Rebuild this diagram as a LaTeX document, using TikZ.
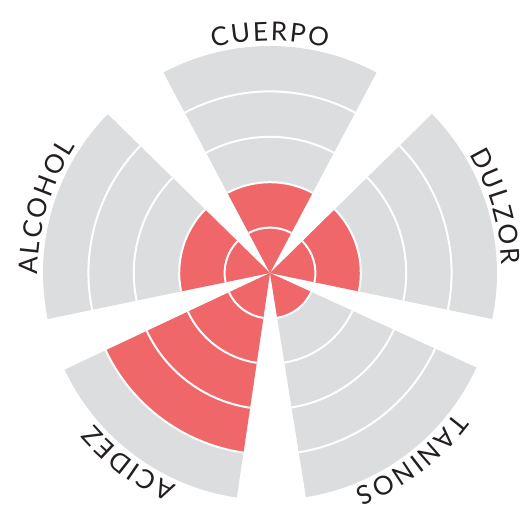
\documentclass[tikz,border=0pt]{standalone}
\usepackage{fontspec}
\setmainfont{Lato}
\newfontfamily\tagfont{Lato}
\usetikzlibrary{decorations.text}
\definecolor{rimgray}{RGB}{220,221,223}
\definecolor{winered}{RGB}{240,103,106}
\definecolor{inkgray}{RGB}{35,31,32}
\tikzset{
  tagchar/.style={font=\tagfont\fontsize{26}{26}\selectfont},
  ringline/.style={white,line width=2pt},
  labelarc/.style={decorate,decoration={text effects along path,text={#1},text align=center,
    text effects/.cd,text along path,
    characters={tagchar,text=inkgray},
    character widths={tagchar,inner xsep=1.1pt}}}
}
\begin{document}
\begin{tikzpicture}[x=1pt,y=1pt]
\useasboundingbox (-270,-236) rectangle (259,273);
\def\ringw{45.4}
% sectors: start angle / end angle / level
\foreach \a/\b/\v in {62/118/2, -11.7/44.5/2, -80.9/-24.6/1, -154.8/-98.4/4, 135.6/191.7/2}{
  \pgfmathsetmacro\rout{5*\ringw}
  \pgfmathsetmacro\rval{\v*\ringw}
  \fill[rimgray] (0,0) -- (\a:\rout) arc[start angle=\a,end angle=\b,radius=\rout] -- cycle;
  \fill[winered] (0,0) -- (\a:\rval) arc[start angle=\a,end angle=\b,radius=\rval] -- cycle;
  \foreach \k in {1,...,4}{
    \pgfmathsetmacro\rk{\k*\ringw}
    \draw[ringline] (\a:\rk) arc[start angle=\a,end angle=\b,radius=\rk];
  }
}
% labels along the rim
\path[labelarc=CUERPO] (130:232) arc[start angle=130,end angle=50,radius=232];
\path[labelarc=DULZOR] (56.4:232) arc[start angle=56.4,end angle=-23.6,radius=232];
\path[labelarc=TANINOS] (-12.75:232) arc[start angle=-12.75,end angle=-92.75,radius=232];
\path[labelarc=ACIDEZ] (-86.6:232) arc[start angle=-86.6,end angle=-166.6,radius=232];
\path[labelarc=ALCOHOL] (203.65:232) arc[start angle=203.65,end angle=123.65,radius=232];
\end{tikzpicture}
\end{document}
